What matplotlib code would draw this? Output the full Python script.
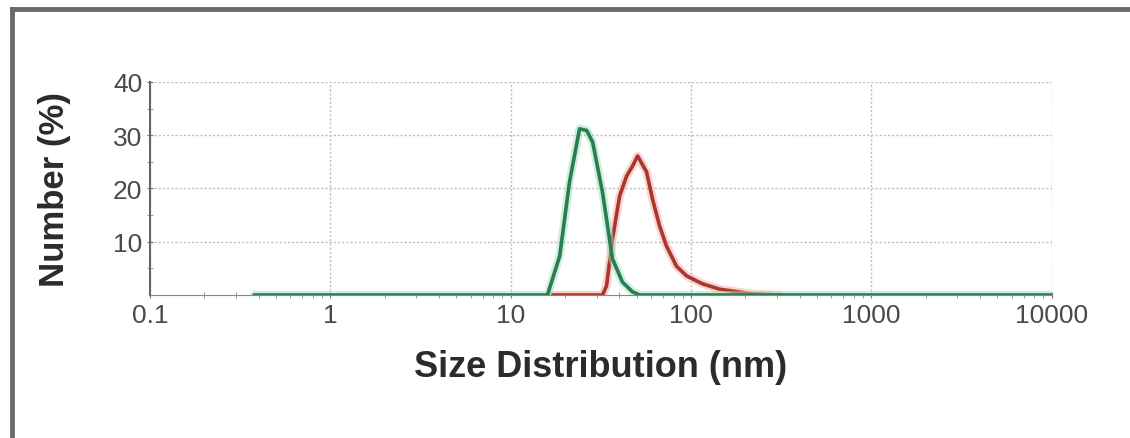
import numpy as np
import matplotlib.pyplot as plt
from matplotlib.lines import Line2D

# size bins (nm) and number distribution (%) for the two samples
size_green = [0.38, 1.0, 10.0, 16.0, 18.7, 21.2, 24.1, 26.4, 28.5, 32.3, 36.7, 41.7, 47.4, 52.0, 100.0, 1000.0, 10000.0]
num_green = [0.0, 0.0, 0.0, 0.0, 7.3, 21.2, 31.2, 30.9, 28.7, 19.3, 6.8, 2.4, 0.6, 0.0, 0.0, 0.0, 0.0]

size_red = [17.1, 32.3, 34.0, 36.7, 40.2, 43.9, 47.4, 50.6, 56.7, 61.2, 66.9, 73.1, 83.1, 94.4, 115.8, 143.9, 219.0, 310.0]
num_red = [0.0, 0.0, 1.7, 10.5, 18.6, 22.3, 24.2, 26.1, 23.1, 18.0, 13.0, 9.2, 5.4, 3.6, 2.1, 1.1, 0.2, 0.0]

x_ticks = [0.1, 1, 10, 100, 1000, 10000]
x_labels = ['0.1', '1', '10', '100', '1000', '10000']
y_ticks = [10, 20, 30, 40]

plt.rcParams['font.family'] = ['Liberation Sans', 'DejaVu Sans']

fig = plt.figure(figsize=(11.3, 4.39), dpi=100)
ax = fig.add_axes([0.1327, 0.3257, 0.798, 0.4853])

# soft halo under each line, then the line itself
ax.plot(size_red, num_red, color='#f4a8a0', lw=6, alpha=0.5, solid_capstyle='round')
ax.plot(size_red, num_red, color='#a8372c', lw=2.6)
ax.plot(size_green, num_green, color='#9fe0c0', lw=6, alpha=0.5, solid_capstyle='round')
ax.plot(size_green, num_green, color='#2a7d4f', lw=2.6)

ax.set_xscale('log')
ax.set_xlim(0.1, 10000)
ax.set_ylim(0, 40)
ax.set_xticks(x_ticks)
ax.set_xticklabels(x_labels)
ax.set_yticks(y_ticks)
ax.set_yticks([5, 15, 25, 35], minor=True)

ax.grid(True, which='major', color='#bdbdbd', linestyle=(0, (1.5, 1.5)), lw=1.0)
ax.tick_params(axis='both', which='major', labelsize=19, labelcolor='#4a4a4a',
               color='#777777', direction='inout', length=5, pad=3)
ax.tick_params(axis='both', which='minor', color='#888888', direction='inout', length=4)

for s in ['top', 'right']:
    ax.spines[s].set_visible(False)
ax.spines['left'].set_color('#666666')
ax.spines['left'].set_linewidth(1.5)
ax.spines['bottom'].set_color('#888888')

ax.set_xlabel('Size Distribution (nm)', fontsize=26, fontweight='bold', color='#2b2b2b', labelpad=16)
ax.set_ylabel('Number (%)', fontsize=25, fontweight='bold', color='#2b2b2b', labelpad=30)

# outer frame, top and left edges
fig.add_artist(Line2D([12 / 1130, 1.0], [1 - 10 / 439, 1 - 10 / 439],
                      transform=fig.transFigure, color='#6a6a6a', lw=3.5))
fig.add_artist(Line2D([12 / 1130, 12 / 1130], [0.0, 1 - 10 / 439],
                      transform=fig.transFigure, color='#6a6a6a', lw=3.5))

fig.savefig('out.png', dpi=100)
